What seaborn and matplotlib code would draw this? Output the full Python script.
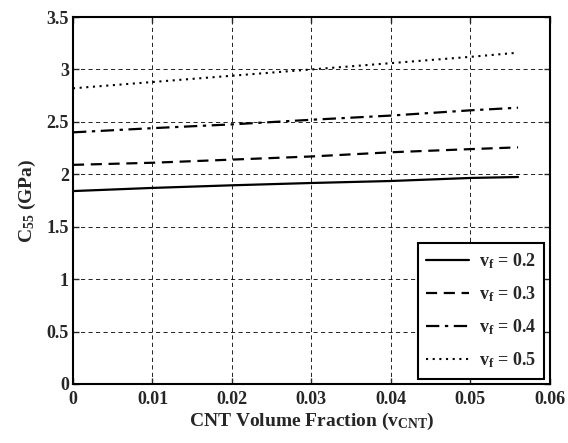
import matplotlib
matplotlib.use("Agg")
import matplotlib.pyplot as plt
import seaborn as sns
import numpy as np

v_cnt = [0.0, 0.01, 0.02, 0.03, 0.04, 0.05, 0.056]
c55_vf02 = [1.84, 1.87, 1.895, 1.917, 1.936, 1.965, 1.974]
c55_vf03 = [2.09, 2.11, 2.14, 2.17, 2.21, 2.24, 2.257]
c55_vf04 = [2.40, 2.44, 2.476, 2.52, 2.56, 2.61, 2.635]
c55_vf05 = [2.82, 2.88, 2.94, 3.00, 3.06, 3.12, 3.16]
labels = ["v$_f$ = 0.2", "v$_f$ = 0.3", "v$_f$ = 0.4", "v$_f$ = 0.5"]
x_ticks = [0, 0.01, 0.02, 0.03, 0.04, 0.05, 0.06]
x_ticklabels = ["0", "0.01", "0.02", "0.03", "0.04", "0.05", "0.06"]
y_ticks = [0, 0.5, 1, 1.5, 2, 2.5, 3, 3.5]
y_ticklabels = ["0", "0.5", "1", "1.5", "2", "2.5", "3", "3.5"]

sns.set_style("ticks")
plt.rcParams['font.family'] = ['Liberation Serif', 'DejaVu Serif']
plt.rcParams['font.weight'] = 'bold'
plt.rcParams['mathtext.default'] = 'regular'
plt.rcParams['xtick.direction'] = 'in'
plt.rcParams['ytick.direction'] = 'in'

fig = plt.figure(figsize=(5.68, 4.43), dpi=100)
ax = fig.add_axes([0.1285, 0.1332, 0.968 - 0.1285, 0.9616 - 0.1332])

series = [c55_vf02, c55_vf03, c55_vf04, c55_vf05]
styles = ['-', (0, (5, 3)), (0, (6, 2.5, 1.5, 2.5)), (0, (1, 2.2))]
widths = [1.6, 1.6, 1.6, 1.5]
for ys, lab, ls, lw in zip(series, labels, styles, widths):
    sns.lineplot(x=v_cnt, y=ys, ax=ax, color='black', linestyle=ls, linewidth=lw, label=lab)

ax.set_xlim(0, 0.06)
ax.set_ylim(0, 3.5)
ax.set_xticks(x_ticks)
ax.set_xticklabels(x_ticklabels, fontsize=13, fontweight='bold')
ax.set_yticks(y_ticks)
ax.set_yticklabels(y_ticklabels, fontsize=13, fontweight='bold')
ax.grid(True, color='black', linestyle=(0, (5, 4)), linewidth=0.6)
for s in ax.spines.values():
    s.set_visible(True)
    s.set_linewidth(1.5)
    s.set_color('black')
ax.tick_params(length=4, width=1, top=True, right=True)
ax.tick_params(axis='x', pad=5)
ax.tick_params(axis='y', pad=3)

ax.set_xlabel("CNT Volume Fraction (v$_{CNT}$)", fontsize=14, fontweight='bold', labelpad=2)
ax.set_ylabel("C$_{55}$ (GPa)", fontsize=14, fontweight='bold', labelpad=6)

leg = ax.legend(loc='lower right', fontsize=13, frameon=True, fancybox=False,
                edgecolor='black', framealpha=1, borderaxespad=0.3,
                handlelength=2.4, handletextpad=0.55, labelspacing=0.75, borderpad=0.45)
leg.get_frame().set_linewidth(1.5)
for t in leg.get_texts():
    t.set_fontweight('bold')

fig.savefig("out.png", dpi=100)
